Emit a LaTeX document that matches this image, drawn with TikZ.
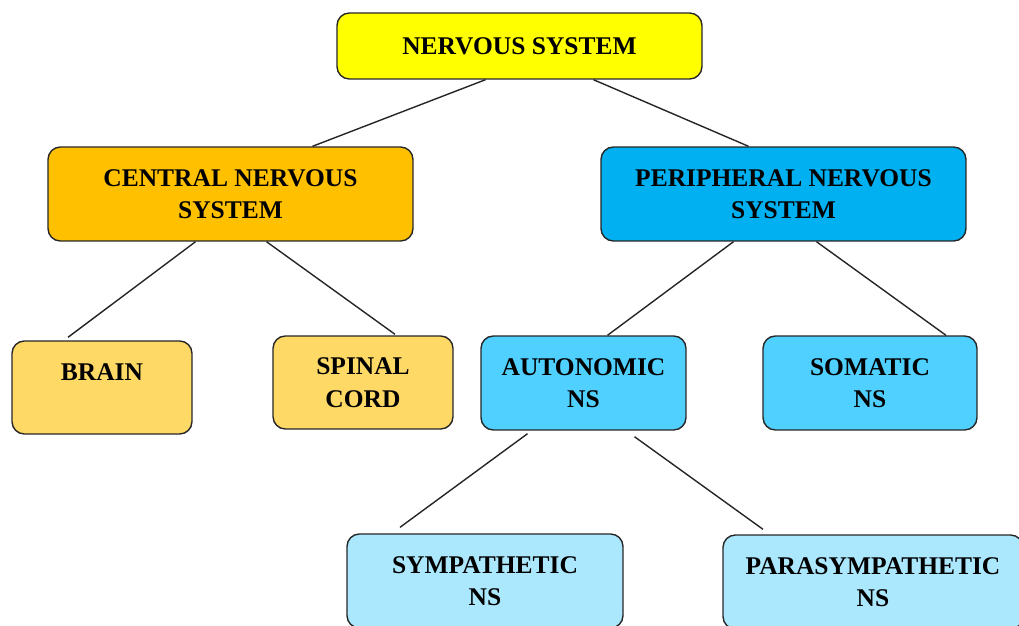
\documentclass[tikz,border=0pt]{standalone}
\usepackage{fontspec}
\setmainfont{Liberation Serif}
\usetikzlibrary{calc}
\definecolor{giallo}{HTML}{FFFF00}
\definecolor{arancio}{HTML}{FFC000}
\definecolor{aranciochiaro}{HTML}{FFD966}
\definecolor{blu}{HTML}{00B0F0}
\definecolor{azzurro}{HTML}{4FD0FF}
\definecolor{celeste}{HTML}{ACE8FD}
\begin{document}
\begin{tikzpicture}[x=0.02cm, y=-0.02cm,
        every node/.style={rectangle, rounded corners=7pt, draw=black!85, line width=0.8pt,
            align=center, font=\bfseries\fontsize{14.5}{18.5}\selectfont, inner sep=2pt},
        linea/.style={draw=black!85, line width=0.8pt}]
        \useasboundingbox (0,0) rectangle (1019,626);
        % Livello superiore
        \node (ns) at (519.5,46) [fill=giallo, minimum width=7.3cm, minimum height=1.32cm] {NERVOUS SYSTEM};
        \node (cns) at (230.5,194) [fill=arancio, minimum width=7.3cm, minimum height=1.88cm] {CENTRAL NERVOUS\\SYSTEM};
        \node (pns) at (783.5,194) [fill=blu, minimum width=7.3cm, minimum height=1.88cm] {PERIPHERAL NERVOUS\\SYSTEM};
        
        % Livello intermedio
        \node (brain) at (102,387.5) [fill=aranciochiaro, minimum width=3.6cm, minimum height=1.86cm, text depth=0.6cm] {BRAIN};
        \node (spinal) at (363,382.5) [fill=aranciochiaro, minimum width=3.6cm, minimum height=1.86cm] {SPINAL\\CORD};
        \node (auto) at (583.5,383) [fill=azzurro, minimum width=4.1cm, minimum height=1.88cm] {AUTONOMIC\\NS};
        \node (somatic) at (870,383) [fill=azzurro, minimum width=4.28cm, minimum height=1.88cm] {SOMATIC\\NS};
        
        % Livello inferiore
        \node (symp) at (485,581) [fill=celeste, minimum width=5.52cm, minimum height=1.88cm] {SYMPATHETIC\\NS};
        \node (para) at (873,582) [fill=celeste, minimum width=6.0cm, minimum height=1.88cm] {PARASYMPATHETIC\\NS};
        
        % Collegamenti
        \draw[linea] ($(ns.south)+(-34,0)$) -- ($(cns.north)+(82,0)$);
        \draw[linea] ($(ns.south)+(74,0)$) -- ($(pns.north)+(-35,0)$);
        \draw[linea] ($(cns.south)+(-35,0)$) -- ($(brain.north)+(-34,-3)$);
        \draw[linea] ($(cns.south)+(36,0)$) -- ($(spinal.north)+(32,-1)$);
        \draw[linea] ($(pns.south)+(-50,0)$) -- ($(auto.north)+(24,0)$);
        \draw[linea] ($(pns.south)+(33,0)$) -- ($(somatic.north)+(76,0)$);
        \draw[linea] ($(auto.south)+(-56,3)$) -- ($(symp.north)+(-85,-6)$);
        \draw[linea] ($(auto.south)+(51,6)$) -- ($(para.north)+(-110,-5)$);
    \end{tikzpicture}
\end{document}
